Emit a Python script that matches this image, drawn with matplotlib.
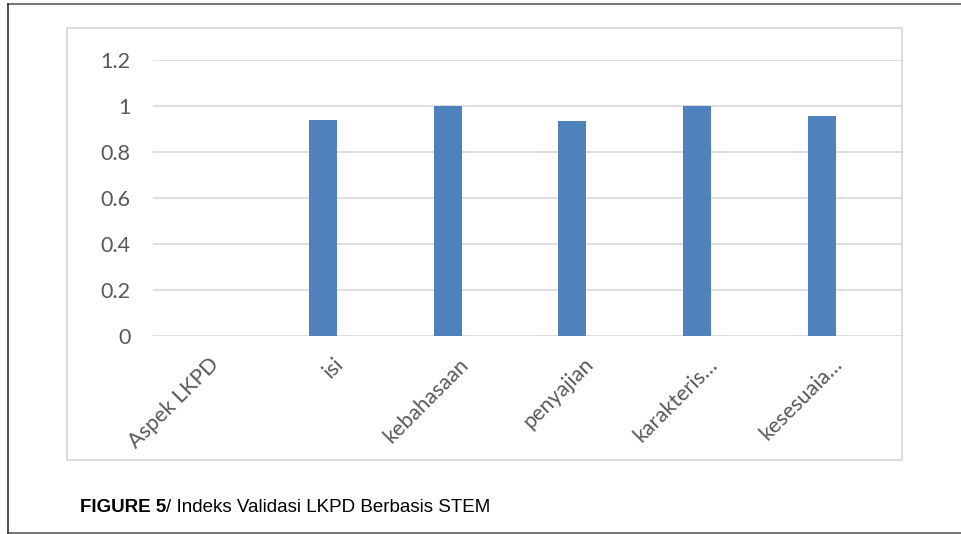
import matplotlib
matplotlib.use('Agg')
import matplotlib.pyplot as plt
from matplotlib.patches import Rectangle
from matplotlib.lines import Line2D
from matplotlib.transforms import ScaledTranslation
import numpy as np

categories = ['Aspek LKPD', 'isi', 'kebahasaan', 'penyajian', 'karakteris…', 'kesesuaia…']
values = [0, 0.94, 1.0, 0.935, 1.0, 0.955]
yticks = [0, 0.2, 0.4, 0.6, 0.8, 1, 1.2]
ytick_labels = ['0', '0.2', '0.4', '0.6', '0.8', '1', '1.2']

W, H = 962, 534
fig = plt.figure(figsize=(W / 100, H / 100), dpi=100)

def fx(px):
    return px / W

def fy(py):
    return 1 - py / H

# outer page border
fig.add_artist(Line2D([fx(8), 1], [fy(4), fy(4)], color='#777777', lw=1.5))
fig.add_artist(Line2D([fx(8), 1], [fy(533), fy(533)], color='#777777', lw=1.5))
fig.add_artist(Line2D([fx(8), fx(8)], [fy(4), fy(533)], color='#333333', lw=1.2))

# chart area frame
fig.add_artist(Rectangle((fx(67), fy(460)), fx(902) - fx(67), fy(28) - fy(460),
                         fill=False, edgecolor='#d9d9d9', lw=1.3))

ax = fig.add_axes([fx(153), fy(336), fx(902) - fx(153), fy(60) - fy(336)])
x = np.arange(len(categories))
ax.bar(x - 0.14, values, width=0.224, color='#4f81bd', linewidth=0, zorder=3)
ax.set_xlim(-0.5, len(categories) - 0.5)
ax.set_ylim(0, 1.2)
ax.set_yticks(yticks)
ax.set_yticklabels(ytick_labels)
ax.set_xticks(x)
ax.set_xticklabels(categories, rotation=45, ha='right', rotation_mode='anchor')
for s in ax.spines.values():
    s.set_visible(False)
ax.grid(axis='y', color='#d9d9d9', lw=1.2, zorder=0)
ax.tick_params(axis='both', length=0, labelsize=15.5, labelcolor='#595959')
ax.tick_params(axis='y', pad=16)
ax.tick_params(axis='x', pad=13)
shift = ScaledTranslation(-7 / 100, 0, fig.dpi_scale_trans)
for lab in ax.get_xticklabels():
    lab.set_family('Lato')
    lab.set_transform(lab.get_transform() + shift)
for lab in ax.get_yticklabels():
    lab.set_family('Lato')

t1 = fig.text(fx(80), fy(512), 'FIGURE 5', fontsize=13.5, fontweight='bold',
              family='Liberation Sans', color='black')
ax.annotate('/ Indeks Validasi LKPD Berbasis STEM', xy=(1, 0), xycoords=t1,
            va='bottom', ha='left', fontsize=13.5, family='Liberation Sans',
            color='black', annotation_clip=False)

fig.savefig('out.png', dpi=100)
